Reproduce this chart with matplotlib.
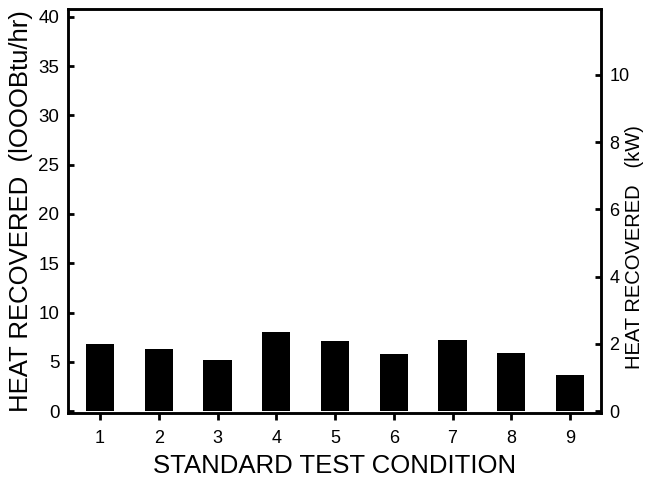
import matplotlib
matplotlib.use("Agg")
import matplotlib.pyplot as plt

plt.rcParams['font.family'] = ['Liberation Sans', 'DejaVu Sans']

conditions = [1, 2, 3, 4, 5, 6, 7, 8, 9]
heat_kbtu = [6.85, 6.25, 5.2, 8.05, 7.1, 5.75, 7.25, 5.85, 3.7]
left_ticks = [0, 5, 10, 15, 20, 25, 30, 35, 40]
right_ticks = [0, 2, 4, 6, 8, 10]
KBTU_PER_KW = 3.412

fig = plt.figure(figsize=(6.45, 4.78), dpi=100)
ax = fig.add_axes([0.105, 0.136, 0.827, 0.845])
ax.bar(conditions, heat_kbtu, width=0.48, color='black')
ax.set_xlim(0.45, 9.53)
ylim = (-0.2, 40.8)
ax.set_ylim(*ylim)
ax.set_xticks(conditions)
ax.set_yticks(left_ticks)
ax.tick_params(axis='y', direction='in', length=4, width=2, labelsize=13.5, pad=6)
ax.tick_params(axis='x', direction='out', length=5, width=2, labelsize=13, pad=7)
for s in ax.spines.values():
    s.set_linewidth(1.8)
ax.set_ylabel('HEAT RECOVERED  (lOOOBtu/hr)', fontsize=18.5, va='center')
ax.yaxis.set_label_coords(-0.088, 0.5)
ax.set_xlabel('STANDARD TEST CONDITION', fontsize=18.5, va='center')
ax.xaxis.set_label_coords(0.5, -0.131)

ax2 = ax.twinx()
ax2.set_ylim(ylim[0] / KBTU_PER_KW, ylim[1] / KBTU_PER_KW)
ax2.set_yticks(right_ticks)
ax2.tick_params(axis='y', direction='in', length=4, width=2, labelsize=13, pad=6)
for s in ax2.spines.values():
    s.set_linewidth(1.8)
ax2.set_ylabel('HEAT RECOVERED   (kW)', fontsize=14.5, rotation=90,
               va='center', ha='center')
ax2.yaxis.set_label_coords(1.063, 0.41)

fig.savefig('out.png', dpi=100)
